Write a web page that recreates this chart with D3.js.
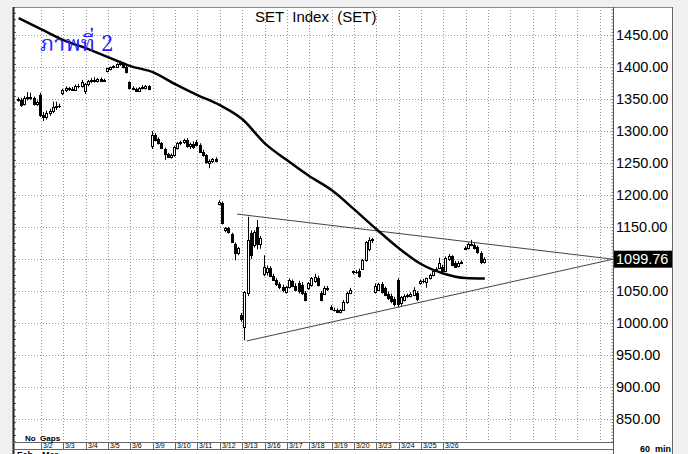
<!DOCTYPE html>
<html><head><meta charset="utf-8">
<script src="https://cdn.jsdelivr.net/npm/d3@7"></script>
<style>
html,body{margin:0;padding:0;background:#fff;}
svg{display:block;font-family:Arial,"Liberation Sans",sans-serif;}
</style></head>
<body>
<svg id="c" width="688" height="454"></svg>
<script>
// ---- data ----
const days = ["2/27","3/2","3/3","3/4","3/5","3/6","3/9","3/10","3/11","3/12","3/13","3/16","3/17","3/18","3/19","3/20","3/23","3/24","3/25","3/26","3/27"];
const dateLabels = ["3/2","3/3","3/4","3/5","3/6","3/9","3/10","3/11","3/12","3/13","3/16","3/17","3/18","3/19","3/20","3/23","3/24","3/25","3/26"];
const monthLabels = ["Feb","Mar"];
const barsPerDay = 7;
// [open, high, low, close] per 60-min bar
const ohlc = [
 // 2/27
 [1350,1353,1346,1348],[1349,1352,1338,1341],[1342,1355,1340,1352],[1351,1361,1348,1354],[1353,1360,1349,1351],[1351,1354,1340,1342],[1342,1348,1339,1345],
 // 3/2
 [1357,1360,1322,1325],[1325,1330,1316,1322],[1322,1332,1318,1328],[1328,1335,1324,1331],[1331,1346,1328,1338],[1338,1346,1333,1340],[1340,1343,1336,1339],
 // 3/3
 [1360,1366,1356,1364],[1364,1370,1361,1367],[1367,1369,1363,1366],[1366,1369,1363,1365],[1365,1373,1363,1371],[1371,1374,1367,1370],[1370,1380,1368,1377],
 // 3/4
 [1362,1375,1358,1374],[1374,1380,1370,1378],[1378,1383,1375,1380],[1380,1384,1376,1379],[1379,1383,1376,1381],[1381,1384,1377,1379],[1379,1382,1377,1380],
 // 3/5
 [1394,1399,1392,1398],[1397,1401,1395,1400],[1400,1403,1398,1401],[1400,1406,1399,1405],[1405,1410,1402,1407],[1406,1408,1398,1400],[1400,1402,1390,1393],
 // 3/6
 [1376,1378,1365,1367],[1367,1370,1364,1366],[1366,1368,1361,1363],[1363,1369,1362,1367],[1367,1372,1365,1369],[1368,1372,1365,1370],[1370,1372,1364,1366],
 // 3/9
 [1276,1300,1272,1294],[1294,1297,1284,1286],[1287,1290,1279,1281],[1281,1283,1272,1274],[1272,1274,1255,1264],[1264,1266,1258,1260],[1260,1265,1257,1262],
 // 3/10
 [1263,1277,1260,1275],[1274,1283,1271,1281],[1281,1285,1278,1283],[1283,1288,1280,1286],[1286,1289,1274,1276],[1276,1282,1272,1280],[1280,1284,1272,1275],
 // 3/11
 [1283,1286,1276,1278],[1278,1281,1266,1268],[1268,1271,1260,1262],[1262,1264,1249,1251],[1250,1256,1242,1254],[1254,1258,1250,1256],[1256,1259,1251,1254],
 // 3/12
 [1186,1192,1184,1189],[1187,1190,1154,1156],[1146,1150,1142,1148],[1148,1150,1140,1143],[1139,1141,1125,1127],[1123,1126,1098,1109],[1109,1119,1106,1117],
 // 3/13
 [1012,1016,1002,1006],[994,1050,973,1048],[1047,1166,1042,1130],[1140,1145,1100,1106],[1122,1145,1118,1142],[1150,1161,1115,1123],[1123,1136,1116,1133],
 // 3/16
 [1076,1106,1073,1087],[1080,1090,1074,1086],[1086,1089,1072,1074],[1074,1077,1066,1068],[1068,1070,1058,1061],[1061,1064,1053,1056],[1056,1060,1048,1051],
 // 3/17
 [1049,1058,1046,1056],[1056,1070,1054,1067],[1066,1068,1056,1058],[1058,1062,1050,1052],[1063,1066,1046,1050],[1060,1064,1044,1047],[1047,1050,1034,1036],
 // 3/18
 [1054,1064,1052,1062],[1060,1072,1057,1070],[1066,1077,1063,1072],[1070,1074,1057,1059],[1047,1050,1034,1036],[1046,1058,1044,1055],[1055,1058,1050,1053],
 // 3/19
 [1025,1028,1020,1022],[1021,1024,1018,1020],[1020,1023,1017,1018],[1017,1022,1015,1021],[1021,1036,1019,1033],[1033,1049,1030,1047],[1047,1055,1045,1052],
 // 3/20
 [1079,1082,1076,1081],[1080,1083,1077,1079],[1082,1085,1071,1073],[1085,1100,1083,1098],[1098,1128,1096,1126],[1115,1134,1112,1130],[1129,1133,1125,1131],
 // 3/23
 [1049,1062,1046,1058],[1052,1063,1050,1061],[1061,1064,1046,1049],[1054,1057,1042,1044],[1046,1049,1036,1039],[1043,1046,1031,1034],[1038,1041,1026,1029],
 // 3/24
 [1067,1070,1025,1029],[1031,1042,1027,1040],[1036,1045,1034,1043],[1042,1046,1039,1044],[1043,1048,1040,1046],[1044,1056,1042,1051],[1047,1050,1034,1037],
 // 3/25
 [1063,1068,1060,1066],[1066,1069,1062,1065],[1064,1071,1055,1070],[1070,1077,1068,1075],[1075,1084,1073,1082],[1084,1087,1080,1082],[1086,1102,1084,1094],
 // 3/26
 [1088,1091,1078,1081],[1082,1104,1080,1102],[1100,1108,1097,1105],[1104,1106,1089,1091],[1094,1097,1086,1088],[1089,1097,1087,1094],[1094,1098,1092,1096],
 // 3/27
 [1116,1120,1114,1118],[1117,1126,1115,1124],[1124,1130,1120,1122],[1122,1125,1115,1117],[1119,1121,1108,1111],[1110,1112,1092,1095],[1095,1103,1093,1099.76]
];
// moving average sampled at day starts (day index, value)
const maDay   = [0,1,2,3,4,5,6,7,8,9,10,11,12,13,14,15,16,17,18,19,20,20.857];
const maValue = [1476.6,1459.4,1442.2,1429.7,1415.6,1401.6,1392.2,1373.4,1356.3,1340.6,1318.8,1281.3,1254.7,1229.7,1207.8,1178.1,1146.9,1117.2,1092.2,1077.5,1070.3,1069.5];
// triangle trendlines (day index, value)
const upperTrend = [[9.77,1170.3],[26.593,1099.76]];
const lowerTrend = [[10.2,971.9],[26.593,1099.76]];
const yTicks = [850,900,950,1000,1050,1100,1150,1200,1250,1300,1350,1400,1450];
const lastPrice = 1099.76;
const title = "SET  Index  (SET)";
const note = "ภาพที่ 2";

// ---- layout ----
const L = 13, R = 613, T = 7, B = 442, panelR = 672;
const svg = d3.select("#c");
const x = d3.scaleLinear().domain([-0.253, 26.593]).range([L, R]);
const y = d3.scaleLinear().domain([814, 1494]).range([B, T]);

// backgrounds
svg.append("rect").attr("x",0).attr("y",0).attr("width",688).attr("height",454).attr("fill","#f0f0f0");
svg.append("rect").attr("x",L).attr("y",T).attr("width",panelR-L).attr("height",454-T).attr("fill","#fff");
svg.append("line").attr("x1",L).attr("x2",panelR).attr("y1",T+0.5).attr("y2",T+0.5).attr("stroke","#888");
svg.append("line").attr("x1",panelR+0.5).attr("x2",panelR+0.5).attr("y1",T).attr("y2",454).attr("stroke","#666");

// grid
const grid = svg.append("g");
yTicks.forEach(v => {
  const yy = Math.round(y(v)) + 0.5;
  grid.append("line").attr("x1",L).attr("x2",R).attr("y1",yy).attr("y2",yy)
    .attr("stroke","#9a9a9a").attr("stroke-dasharray","1,2");
});
d3.range(1, 27).forEach(d => {
  const xx = Math.round(x(d)) + 0.5;
  grid.append("line").attr("x1",xx).attr("x2",xx).attr("y1",T).attr("y2",B)
    .attr("stroke","#9a9a9a").attr("stroke-dasharray","1,2");
});

// right axis with labels
const axisG = svg.append("g").attr("transform",`translate(${R},0)`)
  .call(d3.axisRight(y).tickValues(yTicks).tickFormat(d3.format(".2f")).tickSize(0).tickPadding(3));
axisG.select(".domain").remove();
axisG.selectAll("text").attr("font-size","14.5px").attr("font-family","Arial,'Liberation Sans',sans-serif").attr("fill","#000");
// minor ticks on right axis
const minor = svg.append("g").attr("transform",`translate(${R+0.5},0)`)
  .call(d3.axisLeft(y).tickValues(d3.range(815, 1494, 5)).tickSize(2).tickFormat(""));
minor.select(".domain").remove();
minor.selectAll("line").attr("stroke","#777");
svg.append("line").attr("x1",R+0.5).attr("x2",R+0.5).attr("y1",T).attr("y2",454).attr("stroke","#555");
// left axis
const lminor = svg.append("g").attr("transform",`translate(${L+1},0)`)
  .call(d3.axisRight(y).tickValues(d3.range(815, 1494, 10)).tickSize(2).tickFormat(""));
lminor.select(".domain").remove();
lminor.selectAll("line").attr("stroke","#555");
svg.append("line").attr("x1",L+0.5).attr("x2",L+0.5).attr("y1",T).attr("y2",454).attr("stroke","#222").attr("stroke-width",2);

// date row
svg.append("line").attr("x1",L).attr("x2",R).attr("y1",B+0.5).attr("y2",B+0.5).attr("stroke","#666");
svg.append("line").attr("x1",L).attr("x2",R).attr("y1",449.5).attr("y2",449.5).attr("stroke","#666");
dateLabels.forEach((lab, i) => {
  const d = i + 1;
  const xx = Math.round(x(d)) + 0.5;
  svg.append("line").attr("x1",xx).attr("x2",xx).attr("y1",B).attr("y2",449).attr("stroke","#666");
  svg.append("text").attr("x",xx+1.5).attr("y",448).attr("font-size","7px").attr("fill","#000").text(lab);
});
svg.append("text").attr("x",17).attr("y",458).attr("font-size","9px").attr("font-weight","bold").text(monthLabels[0]);
svg.append("text").attr("x",x(1)+1).attr("y",458).attr("font-size","9px").attr("font-weight","bold").text(monthLabels[1]);
svg.append("text").attr("x",25).attr("y",441).attr("font-size","8px").attr("font-weight","bold")
  .attr("xml:space","preserve").style("white-space","pre").text("No  Gaps");
svg.append("text").attr("x",640).attr("y",452).attr("font-size","9px").attr("font-weight","bold")
  .attr("xml:space","preserve").style("white-space","pre").text("60  min");

// triangle lines
const tl = d3.line().x(p => x(p[0])).y(p => y(p[1]));
[upperTrend, lowerTrend].forEach(t => {
  svg.append("path").attr("d", tl(t)).attr("fill","none").attr("stroke","#444").attr("stroke-width",1);
});

// candles
const cg = svg.append("g");
ohlc.forEach((b, i) => {
  const d = Math.floor(i / barsPerDay), k = i % barsPerDay;
  const px = Math.round(x(d + k / barsPerDay));
  const [o, h, l, c] = b;
  cg.append("line").attr("x1",px-0.5).attr("x2",px-0.5).attr("y1",y(h)).attr("y2",y(l))
    .attr("stroke","#000").attr("stroke-width",1);
  const top = Math.round(y(Math.max(o, c))) + 0.5;
  const bot = Math.round(y(Math.min(o, c))) + 0.5;
  cg.append("rect").attr("x",px-1.5).attr("width",2).attr("y",top).attr("height",Math.max(0.01, bot-top))
    .attr("fill", c >= o ? "#fff" : "#000").attr("stroke","#000").attr("stroke-width",1);
});

// moving average
const maLine = d3.line().x((d,i) => x(maDay[i])).y(v => y(v)).curve(d3.curveMonotoneX);
svg.append("path").attr("d", maLine(maValue)).attr("fill","none").attr("stroke","#000").attr("stroke-width",2.5);

// last price tag
const ly = y(lastPrice);
svg.append("rect").attr("x",R+1).attr("y",ly-8.5).attr("width",panelR-R-1).attr("height",17).attr("fill","#000");
svg.append("text").attr("x",R+3).attr("y",ly).attr("dy","0.35em").attr("font-size","14.5px").attr("fill","#fff").text(d3.format(".2f")(lastPrice));

// title & note
svg.append("text").attr("x",255).attr("y",22).attr("font-size","15px")
  .attr("xml:space","preserve").style("white-space","pre").attr("fill","#000").text(title);
svg.append("text").attr("x",40).attr("y",51).attr("font-size","22px")
  .attr("font-family","'Noto Serif Thai','Noto Sans Thai','Tlwg Typo','Loma','Garuda',Tahoma,serif")
  .attr("fill","#2323ff").text(note);
</script>
</body></html>
